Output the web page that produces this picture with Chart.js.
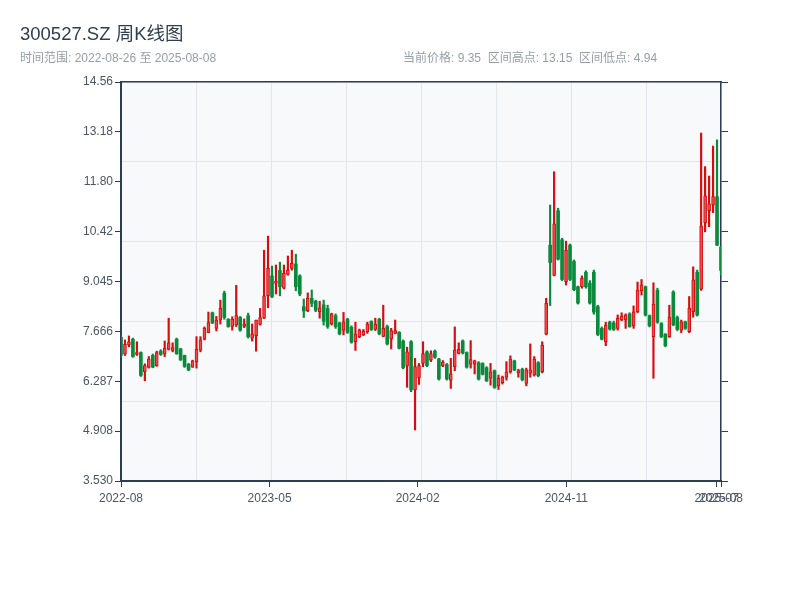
<!DOCTYPE html>
<html>
<head>
<meta charset="utf-8">
<script src="https://cdn.jsdelivr.net/npm/chart.js@4.4.1/dist/chart.umd.min.js"></script>
<style>
html,body{margin:0;padding:0;background:#ffffff;}
#wrap{position:relative;width:800px;height:600px;overflow:hidden;}
#c{position:absolute;left:0;top:0;}
#title{position:absolute;left:20px;top:23px;font-size:18.5px;color:#2c3e50;white-space:nowrap;font-family:"Liberation Sans",Arial,"Noto Sans CJK SC",sans-serif;line-height:21px;}
.sub{position:absolute;top:51px;font-size:12px;color:#959ea6;white-space:nowrap;font-family:"Liberation Sans",Arial,"Noto Sans CJK SC",sans-serif;line-height:14px;}
</style>
</head>
<body>
<div id="wrap">
<canvas id="c" width="800" height="600"></canvas>
<div id="title">300527.SZ 周K线图</div>
<div class="sub" style="left:20px">时间范围: 2022-08-26 至 2025-08-08</div>
<div class="sub" style="left:403px">当前价格: 9.35&nbsp;&nbsp;区间高点: 13.15&nbsp;&nbsp;区间低点: 4.94</div>
</div>
<script>
// ---- data ----
const dates = [
'2022-08-26','2022-09-02','2022-09-09','2022-09-16','2022-09-23','2022-09-30','2022-10-14','2022-10-21','2022-10-28','2022-11-04','2022-11-11','2022-11-18','2022-11-25','2022-12-02','2022-12-09','2022-12-16','2022-12-23','2022-12-30',
'2023-01-06','2023-01-13','2023-01-20','2023-02-03','2023-02-10','2023-02-17','2023-02-24','2023-03-03','2023-03-10','2023-03-17','2023-03-24','2023-03-31','2023-04-07','2023-04-14','2023-04-21','2023-04-28','2023-05-05','2023-05-12','2023-05-19','2023-05-26','2023-06-02','2023-06-09','2023-06-16','2023-06-23','2023-06-30','2023-07-07','2023-07-14','2023-07-21','2023-07-28','2023-08-04','2023-08-11','2023-08-18','2023-08-25','2023-09-01','2023-09-08','2023-09-15','2023-09-22','2023-09-29','2023-10-06','2023-10-13','2023-10-20','2023-10-27','2023-11-03','2023-11-10','2023-11-17','2023-11-24','2023-12-01','2023-12-08','2023-12-15','2023-12-22','2023-12-29',
'2024-01-05','2024-01-12','2024-01-19','2024-01-26','2024-02-02','2024-02-09','2024-02-23','2024-03-01','2024-03-08','2024-03-15','2024-03-22','2024-03-29','2024-04-05','2024-04-12','2024-04-19','2024-04-26','2024-05-03','2024-05-10','2024-05-17','2024-05-24','2024-05-31','2024-06-07','2024-06-14','2024-06-21','2024-06-28','2024-07-05','2024-07-12','2024-07-19','2024-07-26','2024-08-02','2024-08-09','2024-08-16','2024-08-23','2024-08-30','2024-09-06','2024-09-13','2024-09-20','2024-09-27','2024-10-04','2024-10-11','2024-10-18','2024-10-25','2024-11-01','2024-11-08','2024-11-15','2024-11-22','2024-11-29','2024-12-06','2024-12-13','2024-12-20','2024-12-27',
'2025-01-03','2025-01-10','2025-01-17','2025-01-24','2025-01-31','2025-02-07','2025-02-14','2025-02-21','2025-02-28','2025-03-07','2025-03-14','2025-03-21','2025-03-28','2025-04-04','2025-04-11','2025-04-18','2025-04-25','2025-05-02','2025-05-09','2025-05-16','2025-05-23','2025-05-30','2025-06-06','2025-06-13','2025-06-20','2025-06-27','2025-07-04','2025-07-11','2025-07-18','2025-07-25','2025-08-01','2025-08-08'
];
const open = [
7.50,7.04,7.29,7.45,7.03,7.08,6.55,6.67,7.00,6.72,7.12,7.04,7.17,7.14,7.45,7.18,7.00,6.76,6.68,6.83,
7.15,7.45,7.63,8.18,7.75,7.98,8.72,8.00,7.80,7.85,8.05,7.80,8.10,7.48,7.55,7.86,8.03,8.65,9.20,8.99,
9.35,8.86,9.24,9.41,9.53,9.20,8.35,8.23,8.58,8.50,8.21,8.40,8.30,7.87,8.10,7.90,7.69,8.00,7.78,7.38,
7.52,7.57,7.66,7.94,7.72,8.00,7.53,7.80,7.46,7.61,7.64,7.40,6.71,7.38,6.05,6.38,6.78,7.10,6.87,7.12,
6.90,6.72,6.75,6.32,6.69,7.06,7.40,7.08,6.76,6.76,6.80,6.78,6.66,6.37,6.58,6.16,6.25,6.40,6.55,6.85,
6.51,6.62,6.23,6.51,6.46,6.80,6.55,7.59,10.05,9.21,11.00,10.20,9.04,10.05,9.60,8.90,8.90,9.30,9.00,9.30,
8.35,7.75,7.38,7.92,7.90,7.75,7.98,7.98,8.15,7.82,8.21,8.79,8.90,8.10,7.52,8.80,7.88,7.58,7.52,8.75,
8.05,7.70,7.93,7.66,8.21,9.30,8.83,10.67,11.00,11.16,11.39,10.00
];
const high = [
7.55,7.43,7.54,7.48,7.38,7.10,6.77,6.97,7.04,7.12,7.16,7.40,8.03,7.35,7.48,7.20,7.01,6.78,6.87,7.52,
7.52,7.79,8.20,8.20,8.08,8.53,8.78,8.02,8.07,8.94,8.08,8.01,8.17,7.87,7.98,8.30,9.91,10.30,9.47,9.50,
9.58,9.50,9.75,9.91,9.80,9.23,8.56,8.73,8.81,8.53,8.50,8.53,8.39,8.17,8.15,7.92,8.19,8.03,7.82,7.92,
7.73,7.72,7.92,7.96,8.03,8.03,8.39,7.84,7.75,7.98,7.66,7.43,7.23,7.41,6.92,6.78,7.38,7.13,7.13,7.15,
6.92,6.86,6.78,6.92,7.79,7.35,7.43,7.10,7.41,6.87,6.83,6.80,6.69,6.78,6.60,6.46,6.43,6.83,6.99,6.87,
6.62,6.65,6.65,7.32,6.97,6.83,7.38,8.58,11.16,12.08,11.07,10.24,10.16,10.08,9.64,8.92,9.20,9.34,9.07,9.36,
8.39,7.79,7.92,7.95,7.95,8.12,8.18,8.15,8.18,8.37,9.03,9.10,8.92,8.12,9.01,8.86,7.91,7.61,8.39,8.79,
8.09,7.98,7.95,8.63,9.45,9.36,13.15,12.22,11.96,12.79,12.96,10.02
];
const low = [
6.97,7.00,7.24,6.95,7.00,6.42,6.30,6.65,6.66,6.70,7.00,6.97,7.15,7.10,7.03,6.86,6.67,6.58,6.67,6.65,
7.10,7.43,7.63,7.88,7.68,7.87,8.00,7.78,7.70,7.80,7.67,7.77,7.48,7.40,7.12,7.84,8.02,8.32,8.60,8.70,
8.65,8.84,9.22,9.36,8.79,8.65,8.05,8.21,8.35,8.21,8.03,7.84,7.75,7.84,7.75,7.57,7.57,7.61,7.34,7.14,
7.49,7.55,7.61,7.69,7.69,7.57,7.52,7.29,7.18,7.60,7.18,6.63,6.12,6.00,4.94,6.20,6.69,6.69,6.83,6.92,
6.32,6.69,6.32,6.09,6.58,7.04,7.04,6.65,6.65,6.49,6.32,6.46,6.28,6.18,6.09,6.06,6.21,6.32,6.51,6.58,
6.40,6.30,6.16,6.40,6.43,6.41,6.52,7.57,8.38,9.20,9.64,9.07,8.95,9.07,8.79,8.42,8.86,8.86,8.42,8.14,
7.55,7.43,7.27,7.70,7.69,7.70,7.96,7.75,7.78,7.75,8.18,8.67,8.09,7.79,6.37,7.89,7.49,7.24,7.50,7.82,
7.69,7.63,7.72,7.63,8.06,8.09,8.80,10.42,10.56,10.95,10.04,9.23
];
const close = [
7.00,7.31,7.38,6.97,7.08,6.45,6.72,6.90,6.68,7.08,7.03,7.20,7.35,7.22,7.05,6.88,6.70,6.60,6.85,7.17,
7.43,7.75,7.91,7.90,7.98,8.30,8.05,7.80,8.00,8.10,7.70,7.87,7.52,7.60,7.98,8.05,8.65,9.41,8.62,9.05,
8.90,9.27,9.36,9.55,8.90,8.70,8.23,8.58,8.44,8.25,8.32,7.95,7.80,8.15,7.80,7.60,7.93,7.64,7.37,7.59,
7.70,7.67,7.87,7.72,7.87,7.60,7.75,7.32,7.69,7.69,7.20,6.66,7.10,6.05,6.69,6.72,7.05,6.72,7.05,6.95,
6.35,6.82,6.35,6.49,7.15,7.17,7.07,6.68,6.89,6.85,6.35,6.48,6.30,6.55,6.12,6.37,6.40,6.55,6.90,6.60,
6.58,6.33,6.60,6.60,6.90,6.44,7.29,8.44,9.57,10.64,9.66,9.10,9.91,9.10,8.82,8.45,9.13,8.90,8.45,8.20,
7.58,7.45,7.84,7.73,7.72,8.03,8.09,8.12,7.80,8.21,8.81,8.95,8.12,7.82,8.42,7.92,7.52,7.27,8.06,7.85,
7.72,7.93,7.75,8.30,9.09,8.12,10.58,11.41,11.19,11.39,10.05,9.35
];
const xTickDates  = ['2022-08-26','2023-05-20','2024-02-10','2024-11-03','2025-07-31','2025-08-08'];
const xTickLabels = ['2022-08','2023-05','2024-02','2024-11','2025-07','2025-08'];
const yTickLabels = ['3.530','4.908','6.287','7.666','9.045','10.42','11.80','13.18','14.56'];
const yMin = 3.53, yMax = 14.56;
const gridColumns = 8, gridRows = 5;

// ---- styling ----
const AXIS = '#2c3e50';
const TICK_TXT = '#4a5563';
const GRID = '#e2e6ea';
const RED = '#d40d0d', RED_FILL = '#ee4a4a', GREEN = '#0b8a3b';
const FONT = '"Liberation Sans", Arial, "Noto Sans CJK SC", sans-serif';

const N = dates.length;
const isUp = close.map((c, i) => c >= open[i]);
const t0 = Date.parse(dates[0]), t1 = Date.parse(dates[N - 1]);
const xTickPos = xTickDates.map(d => (Date.parse(d) - t0) / (t1 - t0) * (N - 1));
const yTickVals = yTickLabels.map((_, k) => yMin + k * (yMax - yMin) / (yTickLabels.length - 1));
const seq = n => Array.from({length: n + 1}, (_, k) => ({value: k}));

const plotBg = {
  id: 'plotBg',
  beforeDraw(chart) {
    const {ctx, chartArea: a} = chart;
    ctx.save();
    ctx.fillStyle = '#f7f9fb';
    ctx.fillRect(a.left, a.top, a.right - a.left, a.bottom - a.top);
    ctx.restore();
  }
};

Chart.defaults.font.family = FONT;
Chart.defaults.font.size = 12;

new Chart(document.getElementById('c'), {
  type: 'bar',
  data: {
    datasets: [
      {
        label: 'body',
        data: open.map((o, i) => ({x: i, y: [o, close[i]]})),
        backgroundColor: isUp.map(u => u ? RED_FILL : GREEN),
        borderColor: isUp.map(u => u ? RED : GREEN),
        borderWidth: isUp.map(u => u ? 1 : 0),
        borderSkipped: false,
        barThickness: 3,
        minBarLength: 1,
        grouped: false,
        xAxisID: 'x', yAxisID: 'y'
      },
      {
        label: 'wick',
        data: low.map((l, i) => ({x: i, y: [l, high[i]]})),
        backgroundColor: isUp.map(u => u ? RED : GREEN),
        borderWidth: 0,
        barThickness: 1.5,
        grouped: false,
        xAxisID: 'x', yAxisID: 'y'
      }
    ]
  },
  options: {
    responsive: false,
    animation: false,
    layout: {padding: 0},
    plugins: {legend: {display: false}, tooltip: {enabled: false}, title: {display: false}},
    scales: {
      x: {
        type: 'linear', position: 'bottom', min: 0, max: N - 1, offset: false,
        afterBuildTicks: ax => { ax.ticks = xTickPos.map(v => ({value: v})); },
        afterFit: s => { s.height = 119; },
        ticks: {autoSkip: false, maxRotation: 0, color: TICK_TXT, padding: 4,
                font: {size: 12}, callback: (v, i) => xTickLabels[i]},
        grid: {offset: false, drawOnChartArea: false, drawTicks: true, tickLength: 6, tickColor: AXIS, tickWidth: 1},
        border: {display: true, color: AXIS, width: 2}
      },
      gx: {
        type: 'linear', position: 'bottom', min: 0, max: gridColumns, offset: false,
        afterBuildTicks: ax => { ax.ticks = seq(gridColumns); },
        afterFit: s => { s.height = 0; },
        ticks: {display: false, autoSkip: false},
        grid: {offset: false, color: GRID, lineWidth: 1, drawTicks: false},
        border: {display: false}
      },
      xt: {
        type: 'linear', position: 'top', min: 0, max: 1, offset: false,
        afterFit: s => { s.height = 82; },
        ticks: {display: false},
        grid: {display: false, offset: false},
        border: {display: true, color: AXIS, width: 1.5}
      },
      y: {
        type: 'linear', position: 'left', min: yMin, max: yMax,
        afterBuildTicks: ax => { ax.ticks = yTickVals.map(v => ({value: v})); },
        afterFit: s => { s.width = 121; },
        ticks: {color: TICK_TXT, padding: 2, font: {size: 12}, callback: (v, i) => yTickLabels[i]},
        grid: {drawOnChartArea: false, drawTicks: true, tickLength: 6, tickColor: AXIS, tickWidth: 1},
        border: {display: true, color: AXIS, width: 2}
      },
      gy: {
        type: 'linear', position: 'left', min: 0, max: gridRows, offset: false,
        afterBuildTicks: ax => { ax.ticks = seq(gridRows); },
        afterFit: s => { s.width = 0; },
        ticks: {display: false, autoSkip: false},
        grid: {offset: false, color: GRID, lineWidth: 1, drawTicks: false},
        border: {display: false}
      },
      y2: {
        type: 'linear', position: 'right', min: yMin, max: yMax,
        afterBuildTicks: ax => { ax.ticks = yTickVals.map(v => ({value: v})); },
        afterFit: s => { s.width = 79; },
        ticks: {display: false},
        grid: {drawOnChartArea: false, drawTicks: true, tickLength: 7, tickColor: AXIS, tickWidth: 1},
        border: {display: true, color: AXIS, width: 1.5}
      }
    }
  },
  plugins: [plotBg]
});
</script>
</body>
</html>
